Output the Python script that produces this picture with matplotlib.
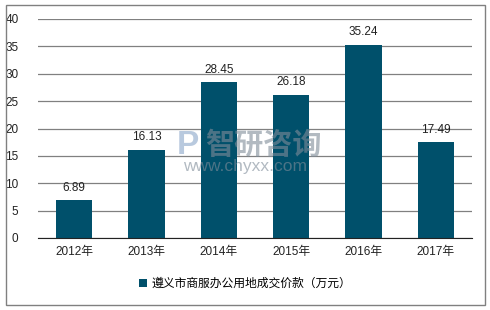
import matplotlib
matplotlib.use("Agg")
import matplotlib.pyplot as plt
from matplotlib.patches import Rectangle

plt.rcParams['font.family'] = ['Liberation Sans', 'Noto Sans CJK SC', 'DejaVu Sans']

years = ['2012年', '2013年', '2014年', '2015年', '2016年', '2017年']
values = [6.89, 16.13, 28.45, 26.18, 35.24, 17.49]
series_name = '遵义市商服办公用地成交价款（万元）'
bar_color = '#00506B'

fig = plt.figure(figsize=(4.9, 3.1), dpi=100)
fig.patches.append(Rectangle((6 / 490, 5 / 310), 479 / 490, 300 / 310,
                             transform=fig.transFigure, fill=False,
                             edgecolor='#808080', linewidth=1))
ax = fig.add_axes([38 / 490, 1 - 238 / 310, 434 / 490, 219 / 310])

x = range(len(years))
bars = ax.bar(x, values, width=0.5, color=bar_color, zorder=3, label=series_name)
for b, v in zip(bars, values):
    ax.text(b.get_x() + b.get_width() / 2, v + 1.2, f'{v:.2f}',
            ha='center', va='bottom', fontsize=8.5, color='#222222')

ax.set_xlim(-0.5, len(years) - 0.5)
ax.set_ylim(0, 40)
ax.set_yticks(range(0, 41, 5))
ax.set_xticks(list(x))
ax.set_xticklabels(years)
ax.yaxis.grid(True, color='#808080', linewidth=0.9, zorder=0)
ax.tick_params(axis='both', length=0, labelsize=8.5, colors='#222222')
ax.tick_params(axis='x', pad=6)
ax.tick_params(axis='y', pad=14)
for s in ['top', 'right', 'left']:
    ax.spines[s].set_visible(False)
ax.spines['bottom'].set_color('#222222')
ax.spines['bottom'].set_zorder(4)

# watermark
fig.text(263 / 490, 1 - 146 / 310, '智研咨询', fontsize=21, color='#7f8c99', alpha=0.6,
         ha='center', va='center', fontweight='bold')
fig.text(188 / 490, 1 - 146 / 310, 'P', fontsize=24, color='#8aa6c8', alpha=0.6,
         ha='center', va='center', fontweight='bold')
fig.text(245 / 490, 1 - 167 / 310, 'www.chyxx.com', fontsize=12.5, color='#7f8c99', alpha=0.6,
         ha='center', va='center')

fig.legend(handles=[bars], labels=[series_name], loc='center',
           bbox_to_anchor=(0.5, 1 - 284 / 310), frameon=False, fontsize=8.5,
           handlelength=0.7, handleheight=0.7, handletextpad=0.3)

fig.savefig('out.png', dpi=100)
